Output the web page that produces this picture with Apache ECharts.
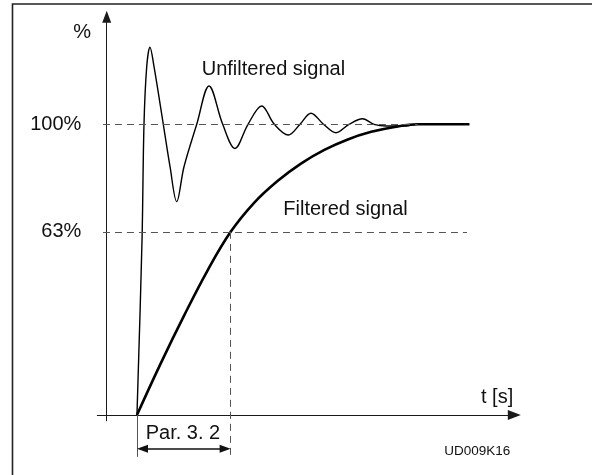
<!DOCTYPE html>
<html>
<head>
<meta charset="utf-8">
<script src="https://cdn.jsdelivr.net/npm/echarts@6/dist/echarts.min.js"></script>
<style>
html,body{margin:0;padding:0;background:#fff;}
#chart{width:592px;height:475px;}
</style>
</head>
<body>
<div id="chart"></div>
<script>
// ---- data (time in units of the filter time constant "Par. 3.2"; value in %) ----
const unfilteredT = [0.323, 0.377, 0.398, 0.427, 0.462, 0.505, 0.604, 0.676, 0.747, 0.825, 0.961, 1.092, 1.238, 1.369, 1.508, 1.654, 1.789, 1.938, 2.063, 2.180, 2.314, 2.447, 2.586, 2.732, 2.853, 2.981, 3.194, 3.319, 3.870];
const unfilteredY = [0, 60.2, 100, 119.8, 126.5, 119.8, 100, 85.4, 73.4, 85.4, 100, 113.2, 100, 91.7, 100, 106.3, 100, 96.3, 100, 103.8, 100, 97.1, 100, 101.9, 100, 99.4, 99.4, 100, 100];
const filteredT = [0.323, 0.573, 0.823, 1.073, 1.323, 1.573, 1.823, 2.073, 2.323, 2.573, 2.823, 3.073, 3.323, 3.870];
const filteredY = [0, 17.5, 34, 49.5, 63, 73, 80.5, 86.5, 91.2, 94.8, 97.4, 99.1, 100, 100];
const yTickValues = [63, 100];
const stepTime = 0.323;   // step applied
const filterTime = 1;     // Par. 3.2 (time constant)
const seriesNames = ['Unfiltered signal', 'Filtered signal'];

const FONT = '"Liberation Sans", Arial, Helvetica, sans-serif';
const FS = 20;
const chart = echarts.init(document.getElementById('chart'), null, {renderer: 'canvas'});

const zip = (a, b) => a.map((v, i) => [v, b[i]]);
const dashed = {type: [7, 5], color: '#555', width: 1};
const solidGray = {type: 'solid', color: '#555', width: 1};
const arrowLine = {type: 'solid', color: '#111', width: 1.5};

const X_MIN = -0.1, X_MAX = 4.35;
const option = {
  animation: false,
  backgroundColor: '#fff',
  grid: [
    {left: 97.33, right: 77.7, top: 16.74, bottom: 54.19, outerBoundsMode: 'none'},
    {left: 97.33, right: 77.7, top: 16.74, bottom: 13.49, outerBoundsMode: 'none'}
  ],
  xAxis: [
    {
      type: 'value', min: X_MIN, max: X_MAX, gridIndex: 0,
      axisLine: {onZero: true, symbol: ['none', 'triangle'], symbolSize: [10, 13], lineStyle: {color: '#1a1a1a', width: 1}},
      axisTick: {show: false}, axisLabel: {show: false}, splitLine: {show: false}
    },
    {type: 'value', min: X_MIN, max: X_MAX, gridIndex: 1, show: false}
  ],
  yAxis: [
    {
      type: 'value', min: -2, max: 137, gridIndex: 0,
      axisLine: {onZero: true, symbol: ['none', 'triangle'], symbolSize: [9, 12], lineStyle: {color: '#1a1a1a', width: 1}},
      axisTick: {show: false}, splitLine: {show: false},
      axisLabel: {
        customValues: yTickValues, formatter: '{value}%', margin: 16,
        fontSize: FS, fontFamily: FONT, color: '#111'
      }
    },
    {type: 'value', min: -16, max: 137, gridIndex: 1, show: false}
  ],
  series: [
    {
      type: 'line', xAxisIndex: 1, yAxisIndex: 1, data: [[stepTime, 0]], showSymbol: false, silent: true,
      lineStyle: {opacity: 0}, z: 1,
      markLine: {
        silent: true, animation: false, symbol: ['none', 'none'],
        label: {show: false}, emphasis: {disabled: true},
        data: [
          [{coord: [-0.04, 100], lineStyle: dashed}, {coord: [3.32, 100]}],
          [{coord: [-0.04, 63], lineStyle: dashed}, {coord: [3.845, 63]}],
          [{coord: [stepTime + filterTime, 63], lineStyle: dashed}, {coord: [stepTime + filterTime, -14.4]}],
          [{coord: [stepTime, 0], lineStyle: solidGray}, {coord: [stepTime, -14.4]}],
          [
            {coord: [stepTime + 0.059, -11.6], symbol: 'triangle', symbolSize: [8, 11], lineStyle: arrowLine},
            {coord: [stepTime + filterTime - 0.059, -11.6], symbol: 'triangle', symbolSize: [8, 11]}
          ]
        ]
      }
    },
    {
      name: seriesNames[0], type: 'line', data: zip(unfilteredT, unfilteredY),
      smooth: 0.35, showSymbol: false, clip: false,
      lineStyle: {color: '#000', width: 1.4}, z: 3
    },
    {
      name: seriesNames[1], type: 'line', data: zip(filteredT, filteredY),
      smooth: 0.4, showSymbol: false, clip: false,
      lineStyle: {color: '#000', width: 2.6}, z: 4
    }
  ],
  graphic: [
    {type: 'polyline', silent: true, shape: {points: [[12.5, 480], [12.5, 4], [600, 4]]}, style: {stroke: '#222', lineWidth: 1.6, fill: null}},
    {type: 'text', x: 91, y: 32, style: {text: '%', font: FS + 'px ' + FONT, fill: '#111', align: 'right', verticalAlign: 'middle'}},
    {type: 'text', x: 201.7, y: 69.3, style: {text: seriesNames[0], font: FS + 'px ' + FONT, fill: '#111', align: 'left', verticalAlign: 'middle'}},
    {type: 'text', x: 283.3, y: 209, style: {text: seriesNames[1], font: FS + 'px ' + FONT, fill: '#111', align: 'left', verticalAlign: 'middle'}},
    {type: 'text', x: 481, y: 397, style: {text: 't [s]', font: FS + 'px ' + FONT, fill: '#111', align: 'left', verticalAlign: 'middle'}},
    {type: 'text', x: 145.7, y: 433.5, style: {text: 'Par. 3. 2', font: FS + 'px ' + FONT, fill: '#111', align: 'left', verticalAlign: 'middle'}},
    {type: 'text', x: 444.3, y: 451, style: {text: 'UD009K16', font: '13.5px ' + FONT, fill: '#111', align: 'left', verticalAlign: 'middle'}}
  ]
};
chart.setOption(option);
</script>
</body>
</html>
